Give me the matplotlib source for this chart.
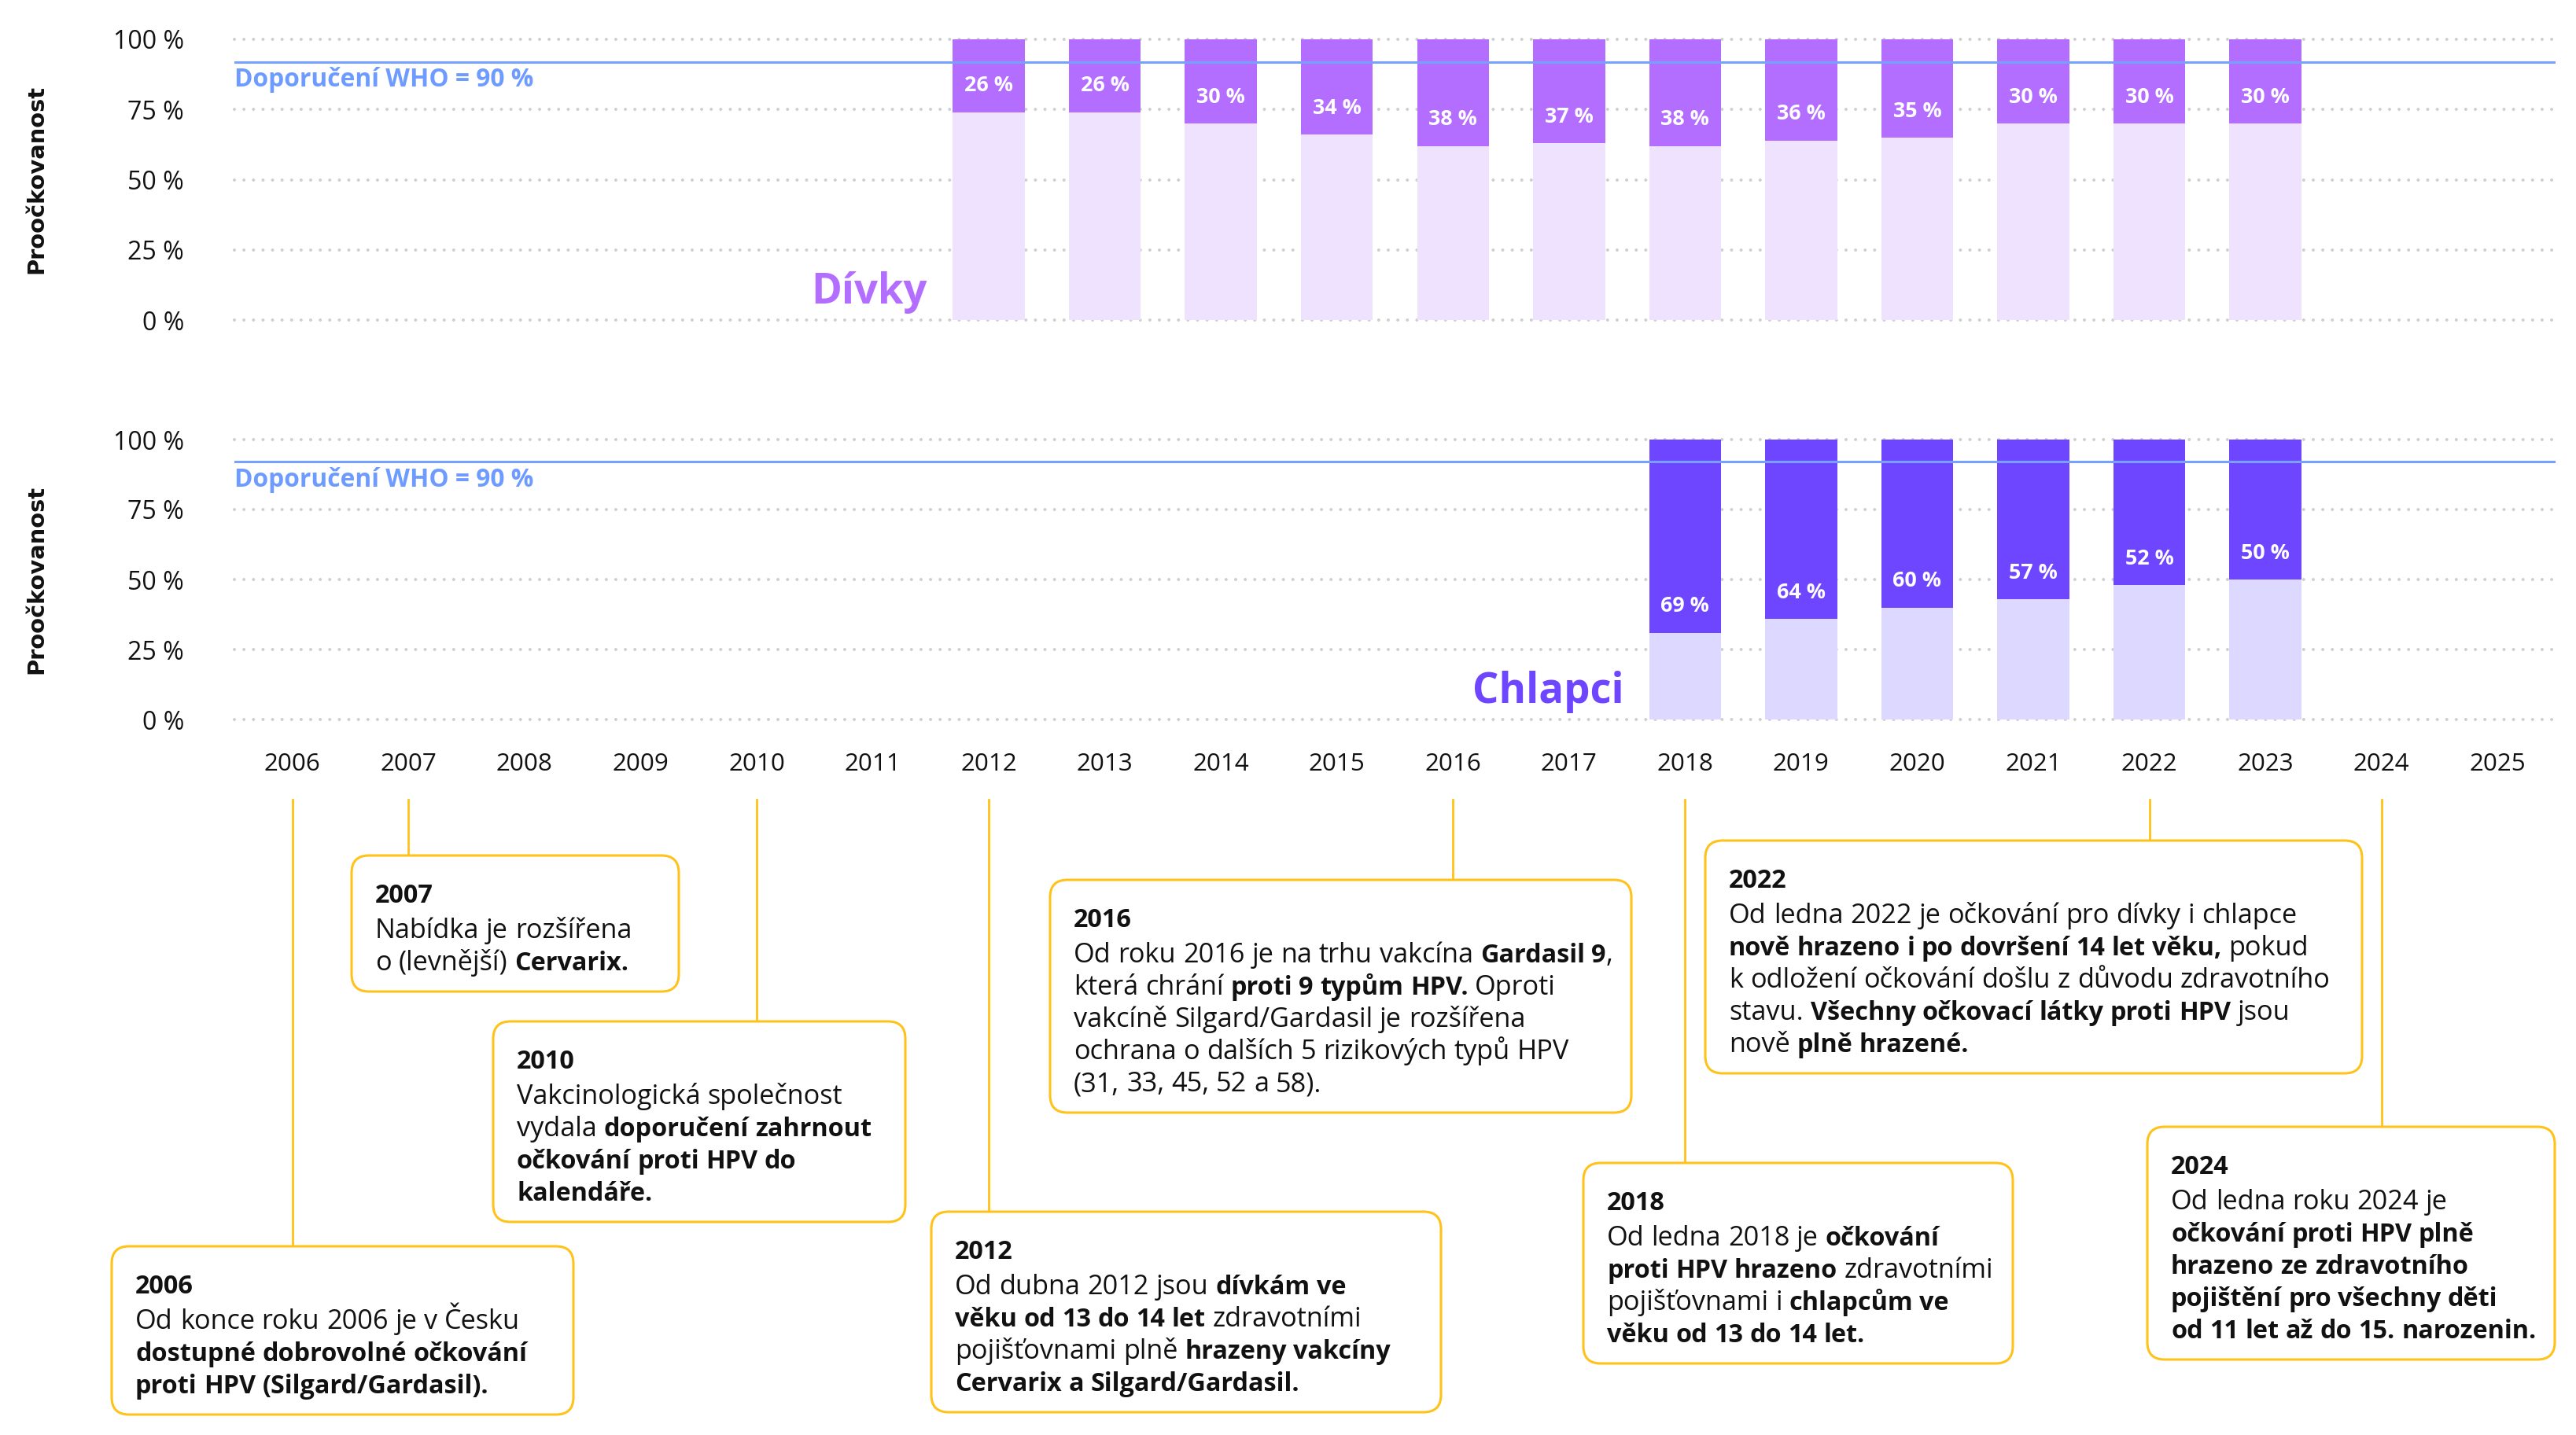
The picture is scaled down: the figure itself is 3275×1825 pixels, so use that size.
import matplotlib
matplotlib.use("Agg")
import matplotlib.pyplot as plt
from matplotlib.font_manager import FontProperties
from matplotlib.patches import FancyBboxPatch
from matplotlib.lines import Line2D
from matplotlib.transforms import IdentityTransform

# ---------------- data ----------------
years = list(range(2006, 2026))
girls_years = list(range(2012, 2024))
girls_values = [26, 26, 30, 34, 38, 37, 38, 36, 35, 30, 30, 30]
boys_years = list(range(2018, 2024))
boys_values = [69, 64, 60, 57, 52, 50]
y_ticks = [0, 25, 50, 75, 100]
y_tick_labels = ["0 %", "25 %", "50 %", "75 %", "100 %"]
who_label = "Doporučení WHO = 90 %"
who_line_level = 92          # position of the WHO line as drawn in the picture
y_label = "Proočkovanost"
girls_name = "Dívky"
boys_name = "Chlapci"

event_years = [2006, 2007, 2010, 2012, 2016, 2018, 2022, 2024]
event_lines = {
    2006: [[("Od konce roku 2006 je v Česku", False)],
           [("dostupné dobrovolné očkování", True)],
           [("proti HPV (Silgard/Gardasil).", True)]],
    2007: [[("Nabídka je rozšířena", False)],
           [("o (levnější) ", False), ("Cervarix.", True)]],
    2010: [[("Vakcinologická společnost", False)],
           [("vydala ", False), ("doporučení zahrnout", True)],
           [("očkování proti HPV do", True)],
           [("kalendáře.", True)]],
    2012: [[("Od dubna 2012 jsou ", False), ("dívkám ve", True)],
           [("věku od 13 do 14 let", True), (" zdravotními", False)],
           [("pojišťovnami plně ", False), ("hrazeny vakcíny", True)],
           [("Cervarix a Silgard/Gardasil.", True)]],
    2016: [[("Od roku 2016 je na trhu vakcína ", False), ("Gardasil 9", True), (",", False)],
           [("která chrání ", False), ("proti 9 typům HPV.", True), (" Oproti", False)],
           [("vakcíně Silgard/Gardasil je rozšířena", False)],
           [("ochrana o dalších 5 rizikových typů HPV", False)],
           [("(31, 33, 45, 52 a 58).", False)]],
    2018: [[("Od ledna 2018 je ", False), ("očkování", True)],
           [("proti HPV hrazeno", True), (" zdravotními", False)],
           [("pojišťovnami i ", False), ("chlapcům ve", True)],
           [("věku od 13 do 14 let.", True)]],
    2022: [[("Od ledna 2022 je očkování pro dívky i chlapce", False)],
           [("nově hrazeno i po dovršení 14 let věku,", True), (" pokud", False)],
           [("k odložení očkování došlu z důvodu zdravotního", False)],
           [("stavu. ", False), ("Všechny očkovací látky proti HPV", True), (" jsou", False)],
           [("nově ", False), ("plně hrazené.", True)]],
    2024: [[("Od ledna roku 2024 je", False)],
           [("očkování proti HPV plně", True)],
           [("hrazeno ze zdravotního", True)],
           [("pojištění pro všechny děti", True)],
           [("od 11 let až do 15. narozenin.", True)]],
}

# ---------------- style / layout ----------------
W, H = 3275, 1825
DPI = 100
FONT = ["Open Sans", "DejaVu Sans"]
GIRLS_DARK = "#B46EFF"
GIRLS_LIGHT = "#EFE2FF"
BOYS_DARK = "#6F46FF"
BOYS_LIGHT = "#DDD8FF"
WHO_LINE = "#78A0FF"
WHO_TEXT = "#6E9BFF"
GOLD = "#FFC21A"
GRID = "#CFCFCF"

# box layout in output pixels (left, top, right), measured from the top
box_layout = {
    2006: (142, 1585, 729),
    2007: (447, 1088, 863),
    2010: (627, 1299, 1151),
    2012: (1184, 1541, 1832),
    2016: (1335, 1119, 2074),
    2018: (2013, 1479, 2559),
    2022: (2168, 1069, 3003),
    2024: (2730, 1433, 3248),
}
LINE_H = 41
BOX_BASE_H = 50
CONNECT_TOP = 1017

plt.rcParams["font.family"] = FONT

fig = plt.figure(figsize=(W / DPI, H / DPI), dpi=DPI)
fig.patch.set_facecolor("white")
renderer = fig.canvas.get_renderer()


def text_w(s, size, weight, family=FONT):
    p = FontProperties(family=family, size=size, weight=weight)
    w1, _, _ = renderer.get_text_width_height_descent("|" + s + "|", p, ismath=False)
    w0, _, _ = renderer.get_text_width_height_descent("||", p, ismath=False)
    return w1 - w0


def fit(s, weight, target_px, family=FONT):
    return 20 * target_px / text_w(s, 20, weight, family)


# font sizes chosen so that reference strings get the widths seen in the picture
BODY_SIZE = fit("Od konce roku 2006 je v Česku", "normal", 489)
BOLD_SIZE = fit("dostupné dobrovolné očkování", "bold", 497)
YTICK_SIZE = fit("100 %", "normal", 90)
XTICK_SIZE = fit("2006", "medium", 72)
WHO_SIZE = fit(who_label, "bold", 380)
BAR_SIZE = fit("26 %", "bold", 62)
NAME_SIZE = fit(boys_name, "bold", 192)
YLAB_SIZE = fit(y_label, "bold", 240, ["DejaVu Sans"])

ax_top = fig.add_axes([298 / W, 1 - 407 / H, 2951 / W, 357 / H])
ax_bot = fig.add_axes([298 / W, 1 - 915 / H, 2951 / W, 356 / H])

x_idx = list(range(len(years)))


def setup(ax, show_x):
    ax.set_xlim(-0.5, len(years) - 0.5)
    ax.set_ylim(0, 100)
    for s in ax.spines.values():
        s.set_visible(False)
    ax.set_yticks(y_ticks)
    ax.set_yticklabels(y_tick_labels)
    ax.tick_params(axis="y", length=0, pad=46, labelsize=YTICK_SIZE, labelcolor="#111111")
    ax.set_xticks(x_idx)
    if show_x:
        ax.set_xticklabels([str(y) for y in years], fontweight="medium")
        ax.tick_params(axis="x", length=0, pad=30, labelsize=XTICK_SIZE, labelcolor="#111111")
    else:
        ax.set_xticklabels([])
        ax.tick_params(axis="x", length=0)
    ax.set_axisbelow(True)
    ax.yaxis.grid(True, color=GRID, linewidth=2.9, linestyle=(0, (0.01, 3.0)))
    ax.xaxis.grid(False)
    for gl in ax.get_ygridlines():
        gl.set_clip_on(False)
        gl.set_dash_capstyle("round")


def draw_group(ax, grp_years, values, dark, light, name):
    xs = [years.index(y) for y in grp_years]
    rest = [100 - v for v in values]
    ax.bar(xs, rest, width=0.62, color=light, zorder=2)
    ax.bar(xs, values, bottom=rest, width=0.62, color=dark, zorder=2)
    for x, v, r in zip(xs, values, rest):
        ax.annotate(f"{v} %", xy=(x, r), xytext=(0, 24), textcoords="offset points",
                    ha="center", va="center", color="white", fontsize=BAR_SIZE,
                    fontweight="bold", zorder=5)
    ax.axhline(who_line_level, color=WHO_LINE, linewidth=2.2, zorder=4)
    ax.annotate(who_label, xy=(-0.5, who_line_level), xytext=(0, -16.5),
                textcoords="offset points", ha="left", va="center",
                color=WHO_TEXT, fontsize=WHO_SIZE, fontweight="bold", zorder=5)
    ax.text(xs[0] - 0.53, 6, name, ha="right", va="baseline", color=dark,
            fontsize=NAME_SIZE, fontweight="bold", zorder=5)


setup(ax_top, False)
setup(ax_bot, True)
draw_group(ax_top, girls_years, girls_values, GIRLS_DARK, GIRLS_LIGHT, girls_name)
draw_group(ax_bot, boys_years, boys_values, BOYS_DARK, BOYS_LIGHT, boys_name)

for ax in (ax_top, ax_bot):
    pos = ax.get_position()
    fig.text(46 / W, (pos.y0 + pos.y1) / 2, y_label, rotation=90, ha="center",
             va="center", fontsize=YLAB_SIZE, fontweight="bold", family=["DejaVu Sans"],
             color="#111111")

# ---------------- timeline boxes ----------------
fp = {False: FontProperties(family=FONT, size=BODY_SIZE, weight="normal"),
      True: FontProperties(family=FONT, size=BOLD_SIZE, weight="bold")}


def adv(s, bold):
    w1, _, _ = renderer.get_text_width_height_descent("|" + s + "|", fp[bold], ismath=False)
    w0, _, _ = renderer.get_text_width_height_descent("||", fp[bold], ismath=False)
    return w1 - w0


space_w = {b: adv(" ", b) for b in (False, True)}
ident = IdentityTransform()


def put(x, y_top, s, bold):
    fig.text(x, H - y_top, s, transform=ident, ha="left", va="baseline",
             fontproperties=fp[bold], color="#111111", zorder=10)


def draw_line(x, y, segs):
    cx = x
    for txt, bold in segs:
        parts = txt.split(" ")
        for i, p in enumerate(parts):
            if i > 0:
                cx += space_w[bold]
            if p:
                put(cx, y, p, bold)
                cx += adv(p, bold)


for yr in event_years:
    left, top, right = box_layout[yr]
    lines = event_lines[yr]
    n = len(lines) + 1
    height = BOX_BASE_H + LINE_H * n
    xc = ax_bot.transData.transform((years.index(yr), 0))[0]
    fig.add_artist(Line2D([xc, xc], [H - CONNECT_TOP, H - top], transform=ident,
                          color=GOLD, linewidth=2.0, zorder=1))
    box = FancyBboxPatch((left, H - top - height), right - left, height,
                         boxstyle="round,pad=0,rounding_size=22",
                         transform=ident, facecolor="white", edgecolor=GOLD,
                         linewidth=2.2, zorder=2)
    fig.add_artist(box)
    tx = left + 30
    ty = top + 60
    put(tx, ty, str(yr), True)
    for k, segs in enumerate(lines):
        draw_line(tx, ty + 45 + LINE_H * k, segs)

fig.savefig("out.png", dpi=DPI, facecolor="white")
